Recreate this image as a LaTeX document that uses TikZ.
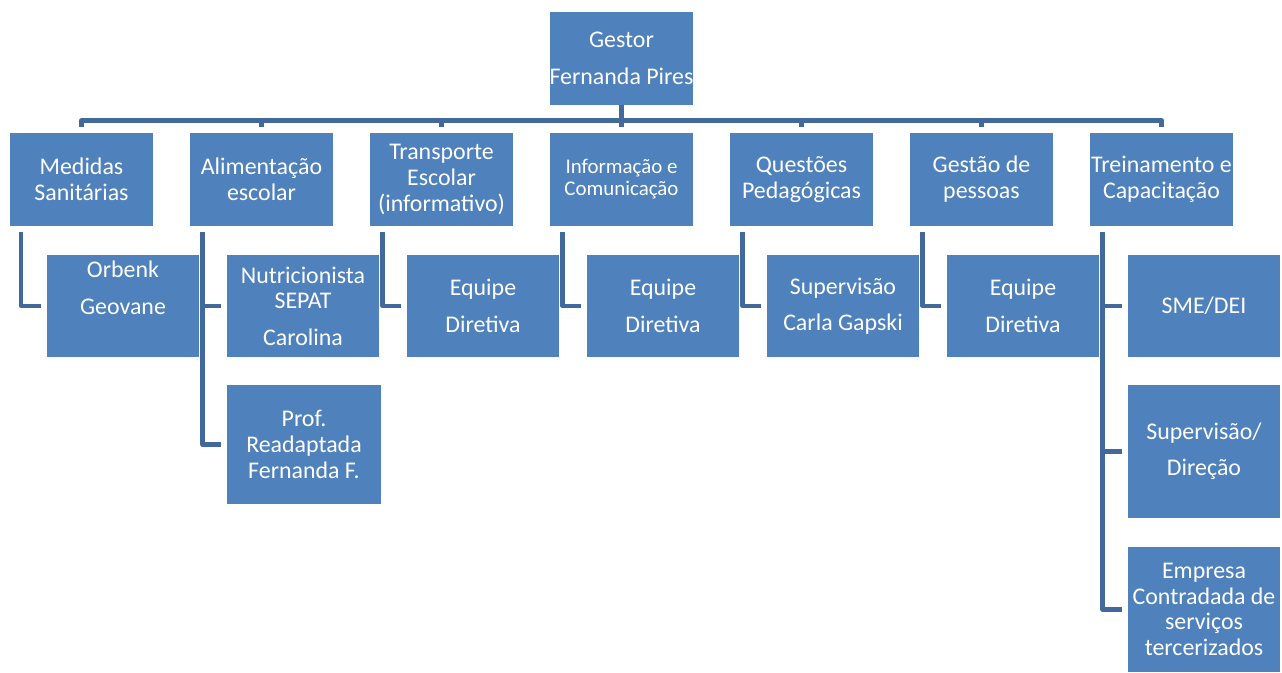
\documentclass[tikz,border=0pt]{standalone}
\usepackage{fontspec}
\setmainfont{Carlito}
\usepackage{tikz}
\usetikzlibrary{positioning,calc}
\definecolor{boxblue}{HTML}{4F81BD}
\definecolor{lineblue}{HTML}{41699C}

\begin{document}
\begin{tikzpicture}[
    x=0.02cm, y=-0.02cm,
    unit/.style={fill=boxblue, text=white, inner sep=0pt, align=center, font=\fontsize{13.6}{14.7}\selectfont},
    headbox/.style={unit, minimum width=2.86cm, minimum height=1.86cm},
    subbox/.style={unit, minimum width=3.04cm, minimum height=2.04cm},
    link/.style={draw=lineblue, line width=2.5pt, line join=round}
]
    \useasboundingbox (0,0) rectangle (1282,673);

    % gestor
    \node[headbox] (gestor) at (621.5,58.5) {Gestor\\[6pt]Fernanda Pires};

    % areas
    \node[headbox] (med) at (81.5,179.5) {Medidas\\Sanitárias};
    \node[headbox] (ali) at (261.5,179.5) {Alimentação\\escolar};
    \node[headbox] (tra) at (441.5,179.5) {Transporte\\Escolar\\(informativo)};
    \node[headbox, font=\fontsize{11.9}{12.6}\selectfont] (inf) at (621.5,179.5) {Informação e\\Comunicação};
    \node[headbox] (que) at (801.5,179.5) {Questões\\Pedagógicas};
    \node[headbox] (ges) at (981.5,179.5) {Gestão de\\pessoas};
    \node[headbox] (tre) at (1161.5,179.5) {Treinamento e\\Capacitação};

    \foreach \c in {med,ali,tra,inf,que,ges,tre}
        \draw[link] (gestor.south) -- ++(0,15) -| ([yshift=0.12cm]\c.north);

    % responsaveis
    \node[subbox] (orb) at (123,306) {Orbenk\\[6.5pt]Geovane\\[6.5pt]\mbox{}};
    \node[subbox] (nut) at (303,306) {Nutricionista\\SEPAT\\[6pt]Carolina};
    \node[subbox, minimum width=3.08cm, minimum height=2.38cm] (prof) at (304,444.5) {Prof.\\Readaptada\\Fernanda F.};
    \node[subbox] (eqt) at (483,306) {Equipe\\[6pt]Diretiva};
    \node[subbox] (eqi) at (663,306) {Equipe\\[6pt]Diretiva};
    \node[subbox] (sup) at (843,306) {Supervisão\\[6pt]Carla Gapski};
    \node[subbox] (eqg) at (1023,306) {Equipe\\[6pt]Diretiva};
    \node[subbox] (sme) at (1204,306) {SME/DEI};
    \node[subbox, minimum height=2.66cm] (dir) at (1204,451.5) {Supervisão/\\[6pt]Direção};
    \node[subbox, minimum height=2.5cm] (emp) at (1204,609.5) {Empresa\\Contradada de\\serviços\\tercerizados};

    \draw[link] ([xshift=0.23cm, yshift=-0.12cm]med.south west) |- ([xshift=-0.12cm]orb.west);
    \draw[link] ([xshift=0.26cm, yshift=-0.12cm]ali.south west) |- ([xshift=-0.12cm]nut.west);
    \draw[link] ([xshift=0.26cm, yshift=-0.12cm]ali.south west) |- ([xshift=-0.12cm]prof.west);
    \draw[link] ([xshift=0.26cm, yshift=-0.12cm]tra.south west) |- ([xshift=-0.12cm]eqt.west);
    \draw[link] ([xshift=0.26cm, yshift=-0.12cm]inf.south west) |- ([xshift=-0.12cm]eqi.west);
    \draw[link] ([xshift=0.26cm, yshift=-0.12cm]que.south west) |- ([xshift=-0.12cm]sup.west);
    \draw[link] ([xshift=0.26cm, yshift=-0.12cm]ges.south west) |- ([xshift=-0.12cm]eqg.west);
    \foreach \c in {sme,dir,emp}
        \draw[link] ([xshift=0.26cm, yshift=-0.12cm]tre.south west) |- ([xshift=-0.12cm]\c.west);
\end{tikzpicture}
\end{document}
